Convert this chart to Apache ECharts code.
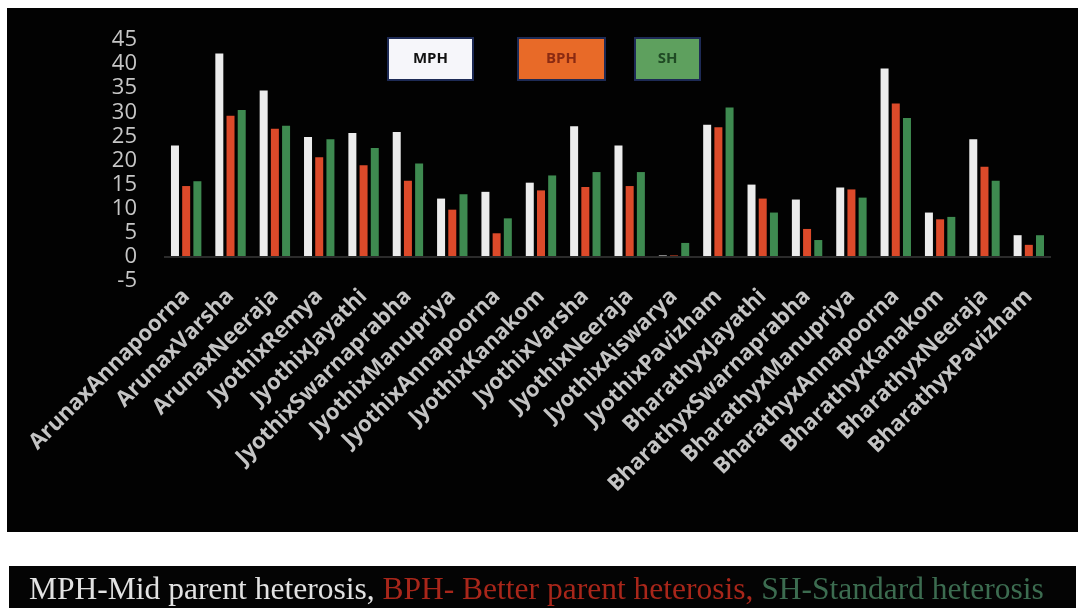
<!DOCTYPE html>
<html>
<head>
<meta charset="utf-8">
<script src="https://cdn.jsdelivr.net/npm/echarts@6/dist/echarts.min.js"></script>
<style>
  html, body { margin: 0; padding: 0; background: #ffffff; }
  #chart { width: 1084px; height: 614px; }
</style>
</head>
<body>
<div id="chart"></div>
<script>
// Crosses (female x male)
const categories = [
  'ArunaxAnnapoorna', 'ArunaxVarsha', 'ArunaxNeeraja', 'JyothixRemya',
  'JyothixJayathi', 'JyothixSwarnaprabha', 'JyothixManupriya', 'JyothixAnnapoorna',
  'JyothixKanakom', 'JyothixVarsha', 'JyothixNeeraja', 'JyothixAiswarya',
  'JyothixPavizham', 'BharathyxJayathi', 'BharathyxSwarnaprabha', 'BharathyxManupriya',
  'BharathyxAnnapoorna', 'BharathyxKanakom', 'BharathyxNeeraja', 'BharathyxPavizham'
];

// Heterosis (%)
const mph = [23.1, 42.2, 34.5, 24.9, 25.7, 25.9, 12.1, 13.5, 15.4, 27.1,
             23.1, 0.3, 27.4, 15.0, 11.9, 14.4, 39.1, 9.2, 24.4, 4.5];
const bph = [14.7, 29.3, 26.6, 20.7, 19.0, 15.8, 9.8, 4.9, 13.8, 14.5,
             14.7, 0.3, 26.9, 12.1, 5.8, 14.0, 31.8, 7.8, 18.7, 2.5];
const sh  = [15.7, 30.5, 27.2, 24.4, 22.6, 19.4, 13.0, 8.0, 16.9, 17.6,
             17.6, 2.9, 31.0, 9.2, 3.5, 12.3, 28.8, 8.3, 15.8, 4.5];

const seriesNames = ['MPH', 'BPH', 'SH'];
const yTicks = { min: -5, max: 45, interval: 5 };
const caption = ['MPH-Mid parent heterosis, ', 'BPH- Better parent heterosis, ', 'SH-Standard heterosis'];

const barColors = ['#ececec', '#dc4a2a', '#3e8a50'];

// Each legend entry is drawn as a framed box with its name centred inside
function legendBox(name, left, width, bg, fg) {
  return {
    data: [{ name: name, icon: 'none' }],
    left: left, top: 37,
    padding: 0, itemWidth: 0, itemHeight: 0, itemGap: 0,
    selectedMode: false,
    formatter: '{box|{name}}',
    textStyle: {
      rich: {
        box: {
          width: width, height: 40, lineHeight: 40,
          align: 'center', verticalAlign: 'middle',
          backgroundColor: bg, borderColor: '#1d2a55', borderWidth: 2,
          color: fg, fontFamily: 'Open Sans', fontWeight: 'bold', fontSize: 15
        }
      }
    }
  };
}

const chart = echarts.init(document.getElementById('chart'), null, { renderer: 'canvas' });

chart.setOption({
  backgroundColor: '#ffffff',
  animation: false,
  graphic: [
    { type: 'rect', z: -10, shape: { x: 7, y: 8, width: 1071, height: 524 }, style: { fill: '#020202' } },
    { type: 'rect', z: -10, shape: { x: 9, y: 566, width: 1067, height: 42 }, style: { fill: '#040404' } }
  ],
  title: {
    left: 24, top: 566,
    text: '{a|' + caption[0] + '}{b|' + caption[1] + '}{c|' + caption[2] + '}',
    textStyle: {
      rich: {
        a: { color: '#e2e2e2', fontFamily: 'Liberation Serif', fontWeight: 'normal', fontSize: 31.5, lineHeight: 40 },
        b: { color: '#a8261a', fontFamily: 'Liberation Serif', fontWeight: 'normal', fontSize: 31.5, lineHeight: 40 },
        c: { color: '#3c6c50', fontFamily: 'Liberation Serif', fontWeight: 'normal', fontSize: 31.5, lineHeight: 40 }
      }
    }
  },
  legend: [
    legendBox('MPH', 384, 83, '#f6f6fa', '#111111'),
    legendBox('BPH', 514, 85, '#e86a28', '#8a2a12'),
    legendBox('SH', 631, 63, '#5ea05e', '#1f4a24')
  ],
  grid: { left: 164, right: 33, top: 40, bottom: 333, containLabel: false },
  xAxis: {
    type: 'category',
    data: categories,
    axisLine: { show: false, onZero: false },
    axisTick: { show: false },
    axisLabel: {
      rotate: 45, margin: 12, interval: 0,
      color: '#c4c4c4', fontFamily: 'Open Sans', fontWeight: 'bold', fontSize: 22
    }
  },
  yAxis: {
    type: 'value',
    min: yTicks.min, max: yTicks.max, interval: yTicks.interval,
    axisLine: { show: false },
    axisTick: { show: false },
    splitLine: { show: false },
    axisLabel: { margin: 27, color: '#c6c6c6', fontFamily: 'Open Sans', fontSize: 22 }
  },
  series: [
    {
      name: seriesNames[0], type: 'bar', data: mph, barWidth: 8, barGap: '40%',
      itemStyle: { color: barColors[0] },
      markLine: {
        silent: true, symbol: 'none', label: { show: false },
        lineStyle: { color: '#2b2b2b', width: 2, type: 'solid' },
        data: [{ yAxis: 0 }]
      }
    },
    { name: seriesNames[1], type: 'bar', data: bph, barWidth: 8, barGap: '40%', itemStyle: { color: barColors[1] } },
    { name: seriesNames[2], type: 'bar', data: sh, barWidth: 8, barGap: '40%', itemStyle: { color: barColors[2] } }
  ]
});
</script>
</body>
</html>
